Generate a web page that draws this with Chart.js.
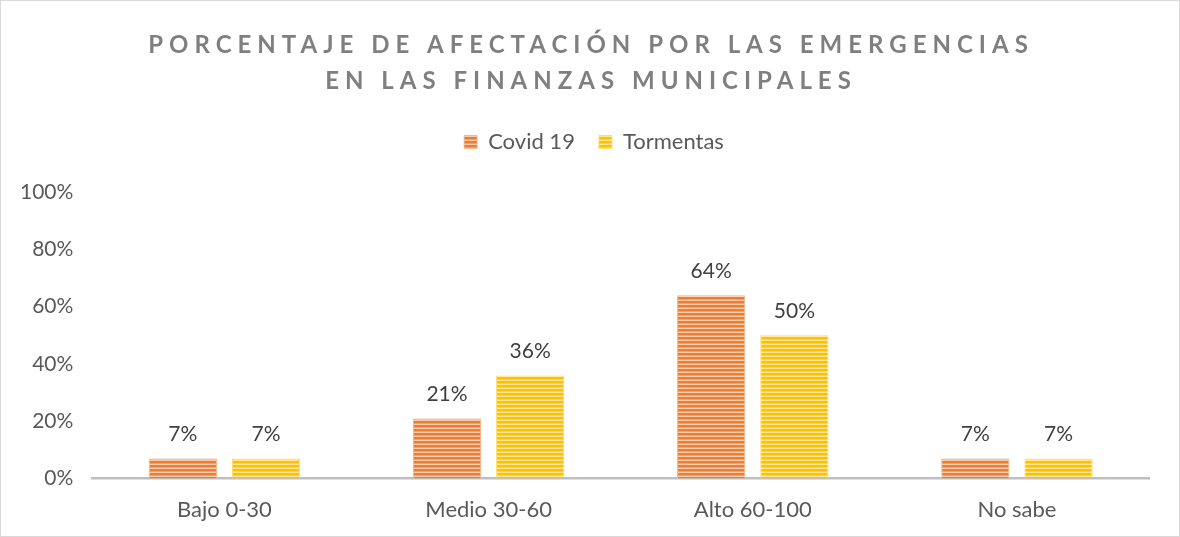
<!DOCTYPE html>
<html>
<head>
<meta charset="utf-8">
<script src="https://cdn.jsdelivr.net/npm/chart.js@4.4.0/dist/chart.umd.min.js"></script>
<style>
  html, body { margin: 0; padding: 0; background: #fff; }
  #wrap { width: 1180px; height: 537px; box-sizing: border-box; border: 1px solid #d9d9d9; position: relative; }
  canvas { display: block; }
</style>
</head>
<body>
<div id="wrap"><canvas id="c" width="1178" height="535"></canvas></div>
<script>
const titleLines = ['PORCENTAJE DE AFECTACIÓN POR LAS EMERGENCIAS', 'EN LAS FINANZAS MUNICIPALES'];
const categories = ['Bajo 0-30', 'Medio 30-60', 'Alto 60-100', 'No sabe'];
const seriesNames = ['Covid 19', 'Tormentas'];
const covid = [7, 21, 64, 7];
const tormentas = [7, 36, 50, 7];
const yTicks = [0, 20, 40, 60, 80, 100];

const FONT = 'Lato, "Liberation Sans", sans-serif';

function stripes(dark, light, mid) {
  const c = document.createElement('canvas');
  c.width = 4; c.height = 4;
  const x = c.getContext('2d');
  x.fillStyle = dark; x.fillRect(0, 0, 4, 4);
  x.fillStyle = mid; x.fillRect(0, 2, 4, 1);
  x.fillStyle = light; x.fillRect(0, 3, 4, 1);
  return x.createPattern(c, 'repeat');
}
const ctx = document.getElementById('c').getContext('2d');
const orangePat = stripes('#ED7D31', '#F8CBAD', '#F2A06A');
const yellowPat = stripes('#FFC000', '#FFE699', '#FFD34D');

const titlePlugin = {
  id: 'spacedTitle',
  afterDraw(chart) {
    const c = chart.ctx;
    c.save();
    c.font = 'bold 24px ' + FONT;
    c.fillStyle = '#7F7F7F';
    c.textAlign = 'center';
    c.textBaseline = 'middle';
    if ('letterSpacing' in c) c.letterSpacing = '6px';
    const cx = chart.width / 2;
    titleLines.forEach((t, i) => c.fillText(t, cx + 1, 44 + i * 36));
    c.restore();
  }
};

const legendSpace = {
  id: 'legendSpace',
  beforeInit(chart) {
    const fit = chart.legend.fit;
    chart.legend.fit = function () { fit.call(this); this.height += 29; };
  },
  afterLayout(chart) {
    chart.legend.left += 19;
    chart.legend.right += 19;
  }
};

const labelPlugin = {
  id: 'barLabels',
  afterDatasetsDraw(chart) {
    const c = chart.ctx;
    c.save();
    c.font = '21px ' + FONT;
    c.fillStyle = '#404040';
    c.textAlign = 'center';
    c.textBaseline = 'middle';
    chart.data.datasets.forEach((ds, di) => {
      const meta = chart.getDatasetMeta(di);
      meta.data.forEach((el, i) => {
        c.fillText(ds.data[i] + '%', el.x, el.y - 24);
      });
    });
    c.restore();
  }
};

new Chart(ctx, {
  type: 'bar',
  data: {
    labels: categories,
    datasets: [
      { label: seriesNames[0], data: covid, backgroundColor: orangePat, borderColor: '#F4B183', borderWidth: {left: 1, right: 1, top: 1, bottom: 0}, borderSkipped: false },
      { label: seriesNames[1], data: tormentas, backgroundColor: yellowPat, borderColor: '#FFD966', borderWidth: {left: 1, right: 1, top: 1, bottom: 0}, borderSkipped: false }
    ]
  },
  options: {
    responsive: false,
    animation: false,
    events: [],
    categoryPercentage: 0.63,
    barPercentage: 0.82,
    layout: { padding: { top: 106, left: 0, right: 30, bottom: 3 } },
    plugins: {
      title: { display: false },
      tooltip: { enabled: false },
      legend: {
        position: 'top',
        labels: { boxWidth: 13, boxHeight: 13, color: '#595959', font: { family: FONT, size: 22 }, padding: 24 }
      }
    },
    scales: {
      x: {
        grid: { display: false },
        border: { display: true, color: '#BFBFBF', width: 2.5 },
        ticks: { color: '#595959', font: { family: FONT, size: 22 }, padding: 10 }
      },
      y: {
        min: 0, max: 100,
        afterBuildTicks(axis) { axis.ticks = yTicks.map(v => ({ value: v })); },
        grid: { display: false, drawTicks: false },
        border: { display: false },
        ticks: { color: '#595959', font: { family: FONT, size: 21 }, padding: 19, callback: v => v + '%' }
      }
    }
  },
  plugins: [titlePlugin, labelPlugin, legendSpace]
});
</script>
</body>
</html>
